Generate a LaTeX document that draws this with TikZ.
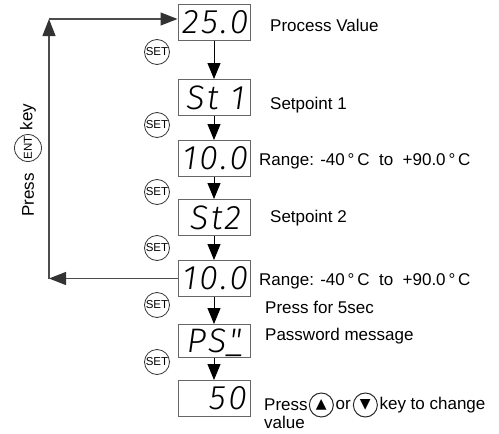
\documentclass[tikz,border=0pt]{standalone}
\usepackage{fontspec}
\usetikzlibrary{arrows.meta}
\setmainfont{Liberation Sans}
\newfontfamily\segfont{Fira Sans Light Italic}[LetterSpace=8]
\newfontfamily\symfont{DejaVu Sans}
\begin{document}
\begin{tikzpicture}[x=1pt,y=-1pt,
  disp/.style={draw=black!60, line width=1pt, fill=white, minimum width=72pt, minimum height=36pt, inner sep=0pt, font=\segfont\fontsize{34}{34}\selectfont},
  setkey/.style={circle, draw=black!80, line width=0.8pt, minimum size=25pt, inner sep=0pt, font=\fontsize{11.5}{11.5}\selectfont},
  arrkey/.style={circle, draw=black!85, line width=1pt, minimum size=24pt, inner sep=0pt, font=\symfont\fontsize{14}{14}\selectfont},
  lbl/.style={anchor=west, inner sep=0pt, font=\fontsize{17}{19}\selectfont},
  flow/.style={-{Triangle[length=16pt,width=13pt]}, line width=1pt},
  loopline/.style={draw=black!70, line width=1.2pt, -{Triangle[length=17pt,width=13pt,color=black!80]}}
]
\useasboundingbox (0,0) rectangle (499,434);
% displays
\node[disp] (d1) at (214,22) {\hspace{3pt}25.0};
\node[disp] (d2) at (214,97.5) {\hspace{3pt}St\hspace{12pt}1};
\node[disp] (d3) at (214,158.5) {\hspace{3pt}10.0};
\node[disp] (d4) at (214,217.5) {\hspace{3pt}St\hspace{2pt}2};
\node[disp] (d5) at (214,278.5) {\hspace{3pt}10.0};
\node[disp, minimum height=33pt] (d6) at (214,341) {\hspace{3pt}PS\ooalign{\_\cr\hfil"\hfil}};
\node[disp, align=right, text width=66pt] (d7) at (214,398.5) {50};
% flow arrows
\draw[flow] (d1) -- (d2);
\draw[flow] (d2) -- (d3);
\draw[flow] (d3) -- (d4);
\draw[flow] (d4) -- (d5);
\draw[flow] (d5) -- (d6);
\draw[flow] (d6) -- (d7);
% set keys
\node[setkey] (s1) at (157,52) {SET};
\node[setkey] (s2) at (157,125) {SET};
\node[setkey] (s3) at (157,192) {SET};
\node[setkey] (s4) at (157,248) {SET};
\node[setkey] (s5) at (157,305) {SET};
\node[setkey] (s6) at (157,362) {SET};
% loop back
\coordinate (bl) at (49,278.5);
\coordinate (tl) at (49,19);
\draw[loopline] (d5.west) -- (bl);
\draw[loopline] (bl) -- (tl);
\draw[loopline] (tl) -- (tl -| d1.west);
\node[rotate=90, inner sep=0pt, font=\fontsize{17}{19}\selectfont] (pr) at (28,195) {Press};
\node[setkey, rotate=90, minimum size=27pt] (ent) at (28,148) {ENT};
\node[rotate=90, inner sep=0pt, font=\fontsize{17}{19}\selectfont] (ky) at (28,117) {key};
% labels
\node[lbl] (l1) at (270,25) {Process Value};
\node[lbl] (l2) at (270,105) {Setpoint 1};
\node[lbl] (l3) at (259,161) {Range: -40\,°\,C\ \ to\ \ +90.0\,°\,C};
\node[lbl] (l4) at (270,218) {Setpoint 2};
\node[lbl] (l5) at (259,281) {Range: -40\,°\,C\ \ to\ \ +90.0\,°\,C};
\node[lbl] (l6) at (265,307) {Press for 5sec};
\node[lbl] (l7) at (265,336) {Password message};
\node[lbl] (p1) at (264,405) {Press};
\node[arrkey, anchor=west] (up) at ([xshift=1pt]p1.east) {▲};
\node[lbl] (p2) at ([xshift=1.5pt]up.east) {or};
\node[arrkey, anchor=west] (dn) at ([xshift=2pt]p2.east) {▼};
\node[lbl] (p3) at ([xshift=1.5pt]dn.east) {key to change};
\node[lbl] (p4) at (264,422) {value};
\end{tikzpicture}
\end{document}
